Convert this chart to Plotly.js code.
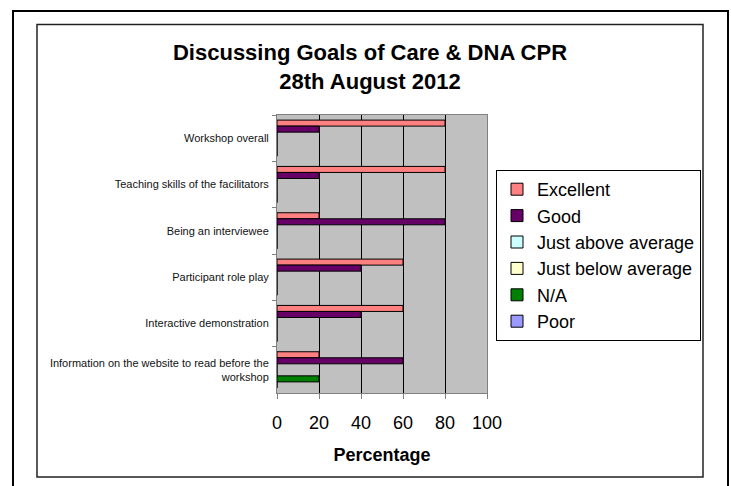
<!DOCTYPE html>
<html>
<head>
<meta charset="utf-8">
<script src="https://cdn.plot.ly/plotly-3.0.1.min.js"></script>
<style>html,body{margin:0;padding:0;background:#fff;}#chart{width:731px;height:486px;}</style>
</head>
<body>
<div id="chart"></div>
<script>
const categories = [
  "Workshop overall",
  "Teaching skills of the facilitators",
  "Being an interviewee",
  "Participant role play",
  "Interactive demonstration",
  "Information on the website to read before the<br>workshop"
];
const seriesNames = ["Excellent", "Good", "Just above average", "Just below average", "N/A", "Poor"];
const excellent = [80, 80, 20, 60, 60, 20];
const good = [20, 20, 80, 40, 40, 60];
const justAbove = [0, 0, 0, 0, 0, 0];
const justBelow = [0, 0, 0, 0, 0, 0];
const notApplicable = [0, 0, 0, 0, 0, 20];
const poor = [0, 0, 0, 0, 0, 0];
const xTicks = [0, 20, 40, 60, 80, 100];

const seriesValues = [excellent, good, justAbove, justBelow, notApplicable, poor];
const colors = ["#FF8080", "#660066", "#CCFFFF", "#FFFFCC", "#008000", "#9999FF"];

const traces = seriesNames.map((name, i) => ({
  type: "bar",
  orientation: "h",
  name: name,
  y: categories,
  x: seriesValues[i],
  marker: { color: colors[i], line: { color: "#000", width: 1 } },
  hoverinfo: "skip"
}));

// plot area geometry (pixels)
const L = 277, T = 115, W = 210, H = 278;
const px = v => (v - L) / W;
const py = v => (T + H - v) / H;

const layout = {
  width: 731, height: 486,
  margin: { l: L, r: 731 - L - W, t: T, b: 486 - T - H, pad: 0 },
  paper_bgcolor: "#fff",
  plot_bgcolor: "#C0C0C0",
  font: { family: "Liberation Sans, Arial, sans-serif", color: "#000" },
  barmode: "group",
  bargap: 0.22,
  bargroupgap: 0,
  showlegend: true,
  title: {
    text: "Discussing Goals of Care & DNA CPR<br>28th August 2012",
    font: { size: 22, family: "Liberation Sans, Arial, sans-serif", weight: "bold", color: "#000" },
    xref: "container", x: 370 / 731, xanchor: "center",
    yref: "container", y: 1 - 60 / 486, yanchor: "top"
  },
  xaxis: {
    range: [0, 100],
    tickvals: xTicks,
    ticktext: xTicks.map(String),
    ticks: "outside", ticklen: 5, tickcolor: "#808080", tickwidth: 1,
    showline: true, linecolor: "#808080", linewidth: 1, mirror: true,
    showgrid: true, gridcolor: "#000", gridwidth: 1,
    zeroline: false,
    ticklabelstandoff: 8,
    tickfont: { size: 18 },
    title: { text: "Percentage", font: { size: 18, weight: "bold" }, standoff: 16 }
  },
  yaxis: {
    type: "category",
    autorange: "reversed",
    ticks: "outside", ticklen: 4, tickcolor: "#808080", tickson: "boundaries",
    showline: true, linecolor: "#808080", linewidth: 1, mirror: true,
    showgrid: false, zeroline: false,
    ticklabelstandoff: 5,
    tickfont: { size: 11, color: "#111" }
  },
  legend: {
    x: px(496), xanchor: "left",
    y: py(170), yanchor: "top",
    bgcolor: "#fff", bordercolor: "#000", borderwidth: 1,
    font: { size: 18 },
    traceorder: "normal"
  },
  shapes: [
    { type: "rect", xref: "paper", yref: "paper", x0: px(13), x1: px(728), y0: py(11), y1: py(492), line: { color: "#000", width: 2 } },
    { type: "rect", xref: "paper", yref: "paper", x0: px(37), x1: px(703), y0: py(24.5), y1: py(477), line: { color: "#222", width: 1.5 } }
  ]
};

Plotly.newPlot("chart", traces, layout, { staticPlot: true, displayModeBar: false });
</script>
</body>
</html>
